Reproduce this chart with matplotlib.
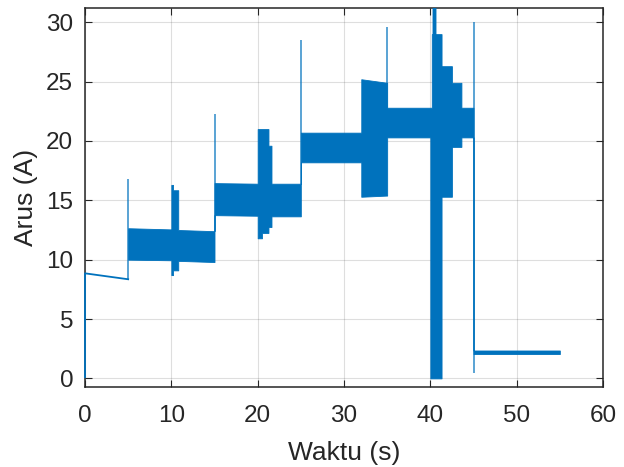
import matplotlib
matplotlib.use("Agg")
import matplotlib.pyplot as plt

# -------------------------
# DATA
# -------------------------
# start-up transient, 0-5 s
start_t = [0.0, 0.0, 5.0]
start_i = [0.1, 8.85, 8.35]

# envelope of the switching ripple, one entry per segment:
# start/end time, lower bound at start/end, upper bound at start/end
seg_t0 = [5.0, 10.0, 10.2, 10.8, 15.0, 20.0, 20.5, 21.25, 21.6, 25.0, 32.0,
          35.0, 40.0, 40.17, 40.25, 40.6, 41.3, 42.5, 43.6, 45.0]
seg_t1 = [10.0, 10.2, 10.8, 15.0, 20.0, 20.5, 21.25, 21.6, 25.0, 32.0, 35.0,
          40.0, 40.17, 40.25, 40.6, 41.3, 42.5, 43.6, 45.0, 55.0]
seg_lo0 = [10.0, 8.7, 9.1, 9.9, 13.75, 11.8, 12.25, 12.75, 13.65, 18.2, 15.3,
           20.3, 0.0, 0.0, 0.0, 0.0, 15.3, 19.5, 20.3, 2.05]
seg_lo1 = [9.95, 8.7, 9.1, 9.8, 13.7, 11.8, 12.25, 12.75, 13.65, 18.2, 15.4,
           20.3, 0.0, 0.0, 0.0, 0.0, 15.3, 19.5, 20.3, 2.05]
seg_hi0 = [12.65, 16.3, 15.85, 12.5, 16.45, 21.0, 21.0, 19.6, 16.4, 20.7, 25.2,
           22.8, 22.8, 29.0, 31.5, 29.0, 26.3, 24.9, 22.8, 2.35]
seg_hi1 = [12.55, 16.3, 15.85, 12.4, 16.4, 21.0, 21.0, 19.6, 16.4, 20.7, 24.9,
           22.8, 22.8, 29.0, 31.5, 29.0, 26.3, 24.9, 22.8, 2.35]

# switching spikes at the load steps
spike_t = [5.0, 15.0, 25.0, 35.0, 45.0]
spike_lo = [8.35, 12.4, 16.4, 20.7, 0.45]
spike_hi = [16.8, 22.3, 28.5, 29.6, 30.0]

x_ticks = [0, 10, 20, 30, 40, 50, 60]
y_ticks = [0, 5, 10, 15, 20, 25, 30]

# -------------------------
# STYLE
# -------------------------
line_color = "#0072BD"
text_color = "#262626"
plt.rcParams["font.family"] = ["Liberation Sans", "DejaVu Sans"]

# -------------------------
# PLOT
# -------------------------
env_t, env_lo, env_hi = [], [], []
for t0, t1, l0, l1, h0, h1 in zip(seg_t0, seg_t1, seg_lo0, seg_lo1, seg_hi0, seg_hi1):
    env_t += [t0, t1]
    env_lo += [l0, l1]
    env_hi += [h0, h1]

fig = plt.figure(figsize=(6.24, 4.67), dpi=100)
ax = fig.add_axes([85 / 624, 1 - 386.7 / 467, (603 - 85) / 624, (386.7 - 8) / 467])

ax.fill_between(env_t, env_lo, env_hi, facecolor=line_color, edgecolor=line_color,
                linewidth=0.6, zorder=3)
# the rise at t=0 sits right on the left spine, so let it draw over it
ax.plot(start_t, start_i, color=line_color, linewidth=1.3, zorder=3, clip_on=False)
ax.vlines(spike_t, spike_lo, spike_hi, color=line_color, linewidth=1.3, alpha=0.7, zorder=3)

ax.set_xlim(0, 60)
ax.set_ylim(-0.7, 31.2)
ax.set_xticks(x_ticks)
ax.set_yticks(y_ticks)
ax.grid(True, color=text_color, alpha=0.15, linewidth=0.8)
ax.set_axisbelow(True)

ax.tick_params(direction="in", top=True, right=True, length=5, width=0.8,
               colors=text_color, labelsize=17.5)
ax.tick_params(axis="x", pad=13)
ax.tick_params(axis="y", pad=8.5)
for spine in ax.spines.values():
    spine.set_color(text_color)
    spine.set_linewidth(1.1)

ax.set_xlabel("Waktu (s)", fontsize=19, color=text_color, va="center")
ax.set_ylabel("Arus (A)", fontsize=19, color=text_color, va="center")
ax.xaxis.set_label_coords(0.5, (386.7 - 453) / 378.7)
ax.yaxis.set_label_coords((26 - 85) / 518, 0.5)

fig.savefig("out.png", dpi=100)
